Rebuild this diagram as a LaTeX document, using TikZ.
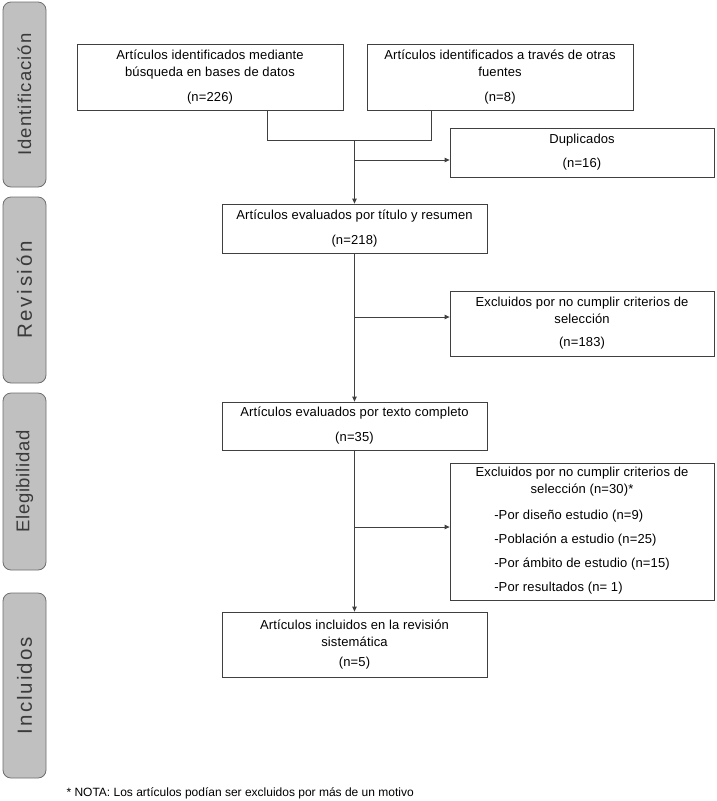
\documentclass[tikz,border=0pt]{standalone}
\usepackage{fontspec}
\setmainfont{Liberation Sans}
\newfontfamily\boxfont[LetterSpace=1]{Liberation Sans}
\usetikzlibrary{arrows.meta}
\definecolor{barfill}{HTML}{C0C0C0}
\definecolor{barline}{HTML}{6E6E6E}
\definecolor{lineclr}{HTML}{404040}
\definecolor{labeltext}{HTML}{3A3A3A}
\tikzset{
  box/.style={draw=lineclr, line width=0.8pt, inner sep=0pt, align=center,
    font=\boxfont\fontsize{13}{17}\selectfont},
  phase/.style={draw=barline, fill=barfill, line width=0.8pt, rounded corners=8pt,
    rotate=90, minimum height=43pt, inner sep=0pt, text=labeltext},
  link/.style={draw=lineclr, line width=0.8pt},
  arr/.style={link, -{Triangle[length=5pt,width=4.5pt]}}
}
\newcommand{\spaced}[3]{{\fontsize{#1}{#1}\selectfont\addfontfeature{LetterSpace=#2}#3}}
\begin{document}
\begin{tikzpicture}[x=1pt, y=-1pt]
    \useasboundingbox (0,0) rectangle (716,801);

    % Phases
    \node[phase, minimum width=185pt] (phId) at (24.5,94.5) {\spaced{18.5}{6}{Identificación}};
    \node[phase, minimum width=186pt] (phRev) at (24.5,290) {\spaced{20.5}{13}{Revisión}};
    \node[phase, minimum width=177pt] (phEleg) at (24.5,481.5) {\spaced{18.5}{4}{Elegibilidad}};
    \node[phase, minimum width=185pt] (phInc) at (24.5,685.5) {\spaced{20.5}{10}{Incluidos}};

    % Boxes
    \node[box, minimum width=266pt, minimum height=66pt] (db) at (210,77)
        {Artículos identificados mediante\\búsqueda en bases de datos\\[8pt](n=226)};
    \node[box, minimum width=266pt, minimum height=66pt] (other) at (500,77)
        {Artículos identificados a través de otras\\fuentes\\[8pt](n=8)};
    \node[box, minimum width=264pt, minimum height=49pt] (dup) at (582,152.5)
        {Duplicados\\[7pt](n=16)};
    \node[box, minimum width=265pt, minimum height=49pt] (screen) at (354.5,228.5)
        {Artículos evaluados por título y resumen\\[8pt](n=218)};
    \node[box, minimum width=264pt, minimum height=65pt] (excl1) at (582,323.5)
        {Excluidos por no cumplir criterios de\\selección\\[6pt](n=183)};
    \node[box, minimum width=265pt, minimum height=48pt] (full) at (354.5,426)
        {Artículos evaluados por texto completo\\[8pt](n=35)};
    \node[box, minimum width=264pt, minimum height=137pt] (excl2) at (582,531.5)
        {Excluidos por no cumplir criterios de\\selección (n=30)*\\[9pt]%
        \begin{tabular}[t]{@{}l@{}}
        -Por diseño estudio (n=9)\\[7pt]
        -Población a estudio (n=25)\\[7pt]
        -Por ámbito de estudio (n=15)\\[7pt]
        -Por resultados (n= 1)
        \end{tabular}};
    \node[box, minimum width=265pt, minimum height=65pt] (incl) at (354.5,644.5)
        {Artículos incluidos en la revisión\\sistemática\\[3pt](n=5)};

    % Connectors
    \coordinate (jA) at (267,140);
    \coordinate (jB) at (431,140);
    \coordinate (join) at (354.5,140);
    \coordinate (b1) at (354.5,160);
    \coordinate (b2) at (354.5,317);
    \coordinate (b3) at (354.5,527);
    \draw[link] (jA |- db.south) -- (jA) -- (jB) -- (jB |- other.south);
    \draw[arr] (join) -- (screen.north);
    \draw[arr] (b1) -- (b1 -| dup.west);
    \draw[arr] (screen.south) -- (full.north);
    \draw[arr] (b2) -- (b2 -| excl1.west);
    \draw[arr] (full.south) -- (incl.north);
    \draw[arr] (b3) -- (b3 -| excl2.west);

    \node[anchor=base west, font=\fontsize{12}{14}\selectfont] (nota) at (63,796)
        {* NOTA: Los artículos podían ser excluidos por más de un motivo};
\end{tikzpicture}
\end{document}
